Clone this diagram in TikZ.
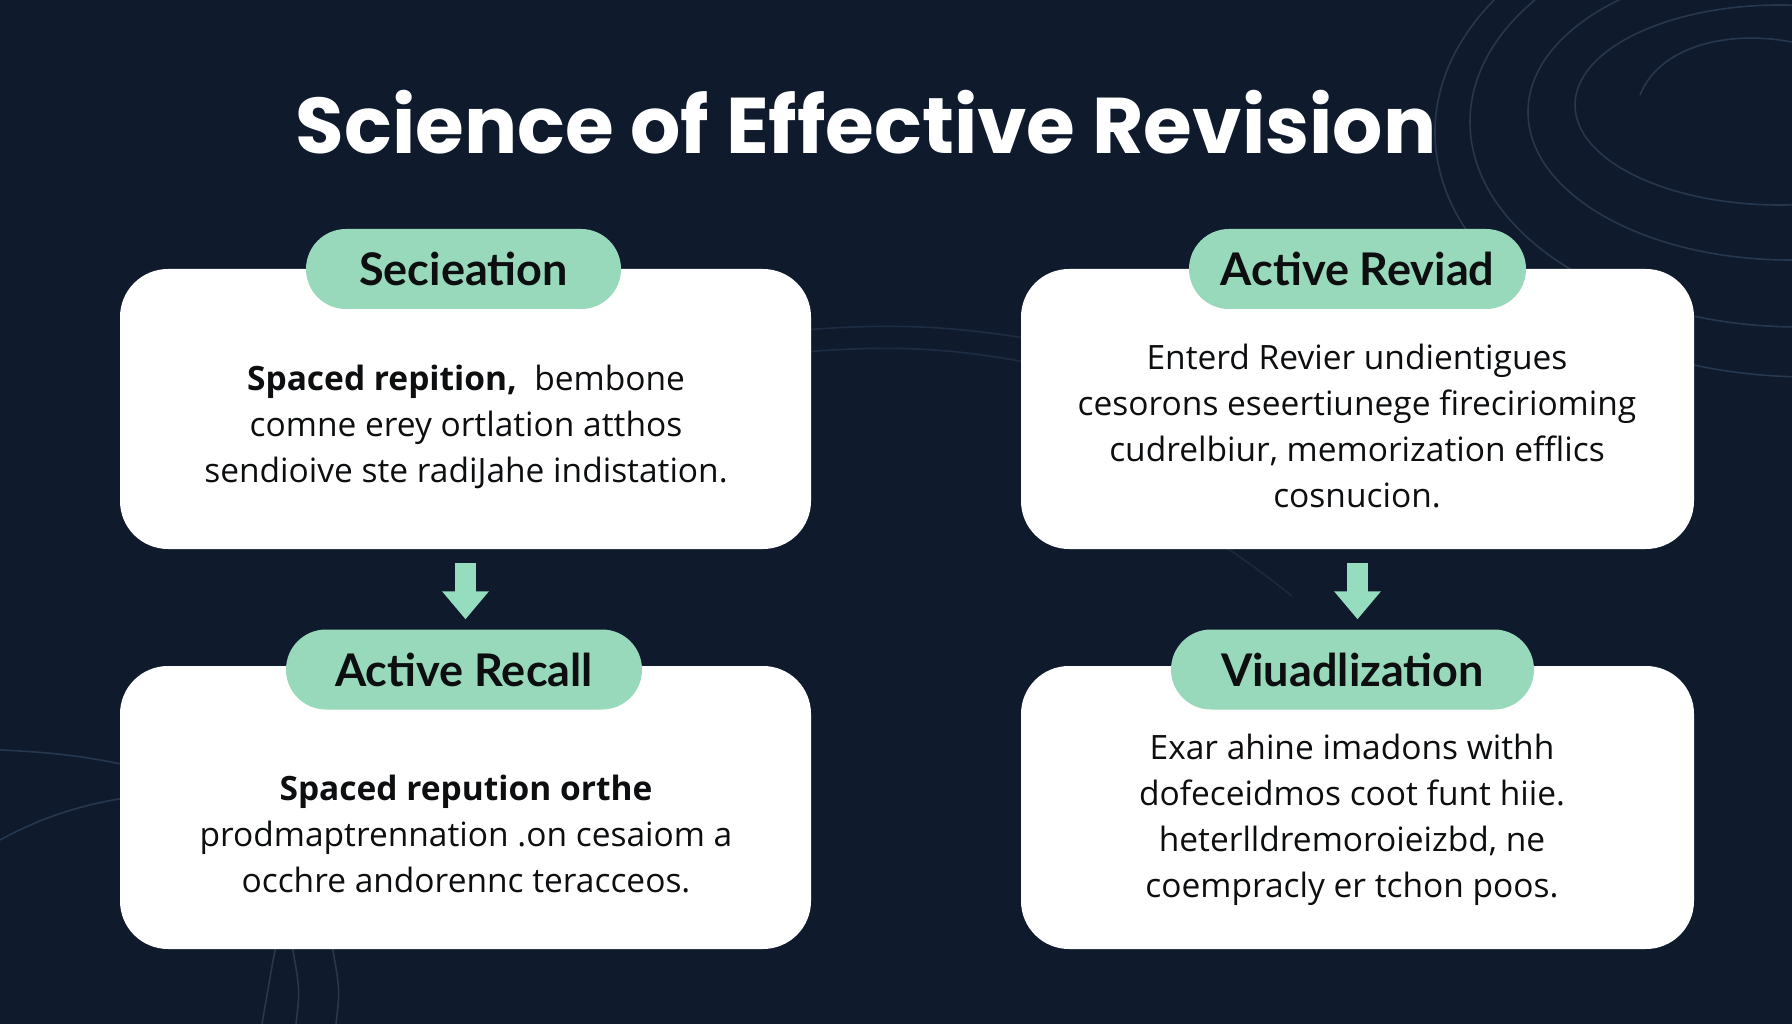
\documentclass[tikz,border=0pt]{standalone}
\usepackage{fontspec}
\setmainfont{Open Sans}
\newfontfamily\titlefont{Poppins}
\newfontfamily\pillfont{Lato}
\usetikzlibrary{arrows.meta}
\definecolor{bgnavy}{HTML}{0F1B2D}
\definecolor{mint}{HTML}{98D8BB}
\definecolor{mintarrow}{HTML}{96DCBE}
\definecolor{decoline}{HTML}{2C3E57}
\definecolor{inkdark}{HTML}{0C0E10}
\tikzset{
  card/.style={draw=none, fill=white, rounded corners=48pt, inner sep=0pt},
  pill/.style={draw=none, fill=mint, rounded corners=40pt, minimum height=80pt, inner sep=0pt,
     text=inkdark, font=\pillfont\bfseries\fontsize{45}{52}\selectfont},
  bodytext/.style={align=center, text=inkdark, inner sep=0pt, font=\fontsize{33.5}{46}\selectfont},
  flowarrow/.style={draw=mintarrow, line width=21pt,
     -{Triangle[length=28pt, width=45pt]}},
  deco/.style={draw=decoline, line width=1.6pt, opacity=0.8},
}
\begin{document}
\begin{tikzpicture}[x=1pt, y=-1pt]
\useasboundingbox (0,0) rectangle (1792,1024);
\fill[bgnavy] (0,0) rectangle (1792,1024);

% decorative background lines
\begin{scope}
\clip (0,0) rectangle (1792,1024);
\draw[deco] (1640,95) .. controls (1660,45) and (1730,30) .. (1792,42);
\draw[deco] (1780,105) ellipse [x radius=205, y radius=100];
\draw[deco] (1790,112) ellipse [x radius=262, y radius=148];
\draw[deco] (1800,122) ellipse [x radius=330, y radius=205];
\draw[deco] (1810,132) ellipse [x radius=375, y radius=245];
\draw[deco] (0,750) .. controls (50,752) and (90,757) .. (125,765);
\draw[deco] (0,840) .. controls (40,818) and (80,805) .. (125,798);
\draw[deco] (262,1024) .. controls (268,990) and (272,965) .. (276,945);
\draw[deco] (296,1024) .. controls (300,990) .. (292,945);
\draw[deco] (336,1024) .. controls (340,990) .. (332,945);
\draw[deco, opacity=0.5] (805,330) .. controls (900,322) and (960,328) .. (1025,338);
\draw[deco, opacity=0.5] (805,352) .. controls (900,344) and (960,350) .. (1025,362);
\draw[deco, opacity=0.4] (1205,535) .. controls (1240,555) and (1265,575) .. (1292,596);
\end{scope}

% title
\node[anchor=base, text=white, inner sep=0pt, font=\titlefont\bfseries\fontsize{79}{90}\selectfont]
  (title) at (866,154) {Science of Effective Revision};

% cards
\node[card, minimum width=691pt, minimum height=280pt] (c1) at (465.5,409) {};
\node[card, minimum width=673pt, minimum height=280pt] (c2) at (1357.5,409) {};
\node[card, minimum width=691pt, minimum height=283pt] (c3) at (465.5,807.5) {};
\node[card, minimum width=673pt, minimum height=283pt] (c4) at (1357.5,807.5) {};

% pills
\node[pill, minimum width=315pt] (p1) at (463.5,269) {Secieation};
\node[pill, minimum width=337pt] (p2) at (1357.5,269) {Active Reviad};
\node[pill, minimum width=356pt] (p3) at (464,669.5) {Active Recall};
\node[pill, minimum width=363pt] (p4) at (1352.5,669.5) {Viuadlization};

% body texts
\node[bodytext] (t1) at (466,427) {\textbf{Spaced repition,}\ \ bembone\\comne erey ortlation atthos\\sendioive ste radiJahe indistation.};
\node[bodytext] (t2) at (1357,426) {Enterd Revier undientigues\\cesorons eseertiunege firecirioming\\cudrelbiur, memorization efflics\\cosnucion.};
\node[bodytext] (t3) at (466,834) {\textbf{Spaced repution orthe}\\prodmaptrennation .on cesaiom a\\occhre andorennc teracceos.};
\node[bodytext] (t4) at (1352,820) {Exar ahine imadons withh\\dofeceidmos coot funt hiie.\\heterlldremoroieizbd, ne\\coempracly er tchon poos.};

% arrows
\draw[flowarrow, shorten <=14pt, shorten >=10pt] (c1.south) -- (c1.south |- p3.north);
\draw[flowarrow, shorten <=14pt, shorten >=10pt] (c2.south) -- (c2.south |- p4.north);
\end{tikzpicture}
\end{document}
